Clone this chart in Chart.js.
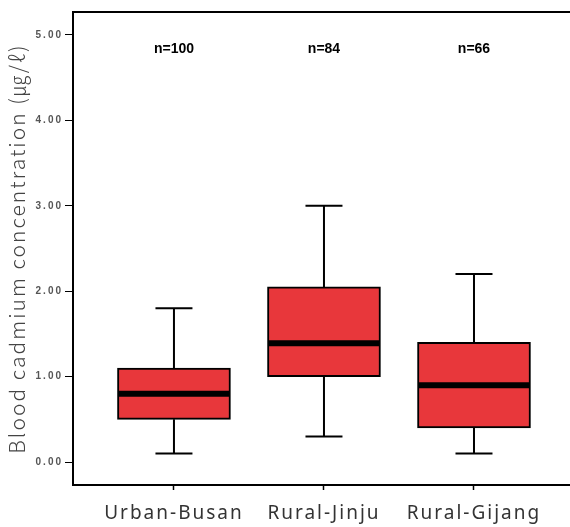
<!DOCTYPE html>
<html>
<head>
<meta charset="utf-8">
<script src="https://cdn.jsdelivr.net/npm/chart.js@4.4.1/dist/chart.umd.min.js"></script>
<style>
  html, body { margin: 0; padding: 0; background: #fff; }
  #wrap { width: 570px; height: 527px; }
</style>
</head>
<body>
<div id="wrap"><canvas id="boxChart"></canvas></div>
<script>
// Box plot data
const groups = ['Urban-Busan', 'Rural-Jinju', 'Rural-Gijang'];
const counts = ['n=100', 'n=84', 'n=66'];
const whiskerLow = [0.1, 0.3, 0.1];
const quart1 = [0.5, 1.0, 0.4];
const medians = [0.8, 1.39, 0.9];
const quart3 = [1.1, 2.05, 1.4];
const whiskerHigh = [1.8, 3.0, 2.2];
const yTicks = [0, 1, 2, 3, 4, 5];

const boxData = groups.map(function(g, i) {
    return { x: i + 1, y: [quart1[i], quart3[i]] };
});

// draws whiskers, caps, medians, the top frame line and the n= labels
const boxExtras = {
    id: 'boxExtras',
    beforeDraw: function(chart) {
        chart.ctx.letterSpacing = '2px';
    },
    afterDatasetsDraw: function(chart) {
        const ctx = chart.ctx;
        const xs = chart.scales.x;
        const ys = chart.scales.y;
        const area = chart.chartArea;
        ctx.save();
        ctx.strokeStyle = '#000';
        ctx.lineCap = 'butt';
        groups.forEach(function(g, i) {
            const cx = xs.getPixelForValue(i + 1);
            const half = 56;
            const cap = 18.5;
            ctx.lineWidth = 2;
            ctx.beginPath();
            ctx.moveTo(cx, ys.getPixelForValue(quart3[i]));
            ctx.lineTo(cx, ys.getPixelForValue(whiskerHigh[i]));
            ctx.moveTo(cx, ys.getPixelForValue(quart1[i]));
            ctx.lineTo(cx, ys.getPixelForValue(whiskerLow[i]));
            ctx.moveTo(cx - cap, ys.getPixelForValue(whiskerHigh[i]));
            ctx.lineTo(cx + cap, ys.getPixelForValue(whiskerHigh[i]));
            ctx.moveTo(cx - cap, ys.getPixelForValue(whiskerLow[i]));
            ctx.lineTo(cx + cap, ys.getPixelForValue(whiskerLow[i]));
            ctx.stroke();
            ctx.lineWidth = 6;
            ctx.beginPath();
            ctx.moveTo(cx - half, ys.getPixelForValue(medians[i]));
            ctx.lineTo(cx + half, ys.getPixelForValue(medians[i]));
            ctx.stroke();

            ctx.fillStyle = '#000';
            ctx.font = 'bold 14px "Liberation Sans", Arial, sans-serif';
            ctx.textAlign = 'center';
            ctx.textBaseline = 'middle';
            ctx.letterSpacing = '0px';
            ctx.fillText(counts[i], cx, ys.getPixelForValue(4.83));
        });
        ctx.lineWidth = 2;
        ctx.beginPath();
        ctx.moveTo(area.left, area.top);
        ctx.lineTo(area.right, area.top);
        ctx.stroke();
        ctx.restore();
    }
};

document.addEventListener('DOMContentLoaded', function() {
    const ctx = document.getElementById('boxChart');
    new Chart(ctx, {
        type: 'bar',
        data: {
            datasets: [{
                data: boxData,
                backgroundColor: '#e8373b',
                borderColor: '#000',
                borderWidth: 2,
                borderSkipped: false,
                barThickness: 113
            }]
        },
        options: {
            responsive: true,
            maintainAspectRatio: false,
            animation: false,
            layout: { padding: { top: 12, left: 0, right: 0, bottom: 0 } },
            plugins: {
                legend: { display: false },
                tooltip: { enabled: false }
            },
            scales: {
                x: {
                    type: 'linear',
                    offset: false,
                    min: 0.327,
                    max: 3.64,
                    afterBuildTicks: function(scale) {
                        scale.ticks = groups.map(function(g, i) { return { value: i + 1 }; });
                    },
                    afterFit: function(scale) {
                        scale.height = 42;
                    },
                    ticks: {
                        autoSkip: false,
                        maxRotation: 0,
                        padding: 12,
                        color: '#333',
                        font: { family: '"Noto Sans", sans-serif', size: 19 },
                        callback: function(value) {
                            return groups[value - 1] || '';
                        }
                    },
                    grid: {
                        offset: false,
                        drawOnChartArea: false,
                        drawTicks: true,
                        tickLength: 5,
                        tickWidth: 1.5,
                        color: '#000'
                    },
                    border: { color: '#000', width: 2 }
                },
                y: {
                    min: -0.269,
                    max: 5.269,
                    afterBuildTicks: function(scale) {
                        scale.ticks = yTicks.map(function(v) { return { value: v }; });
                    },
                    afterFit: function(scale) {
                        scale.width = 73;
                    },
                    ticks: {
                        padding: 2,
                        color: '#555',
                        font: { family: '"Liberation Sans", Arial, sans-serif', size: 10, weight: 'bold' },
                        callback: function(value) {
                            return value.toFixed(2);
                        }
                    },
                    grid: {
                        drawOnChartArea: false,
                        drawTicks: true,
                        tickLength: 8,
                        tickWidth: 1,
                        color: '#000'
                    },
                    border: { color: '#000', width: 2 },
                    title: {
                        display: true,
                        text: 'Blood cadmium concentration (㎍/ℓ)',
                        color: '#444',
                        padding: { top: 4, bottom: 0 },
                        font: { family: '"Noto Sans CJK KR", "Noto Sans", sans-serif', size: 21, weight: 300 }
                    }
                }
            }
        },
        plugins: [boxExtras]
    });
});
</script>
</body>
</html>
